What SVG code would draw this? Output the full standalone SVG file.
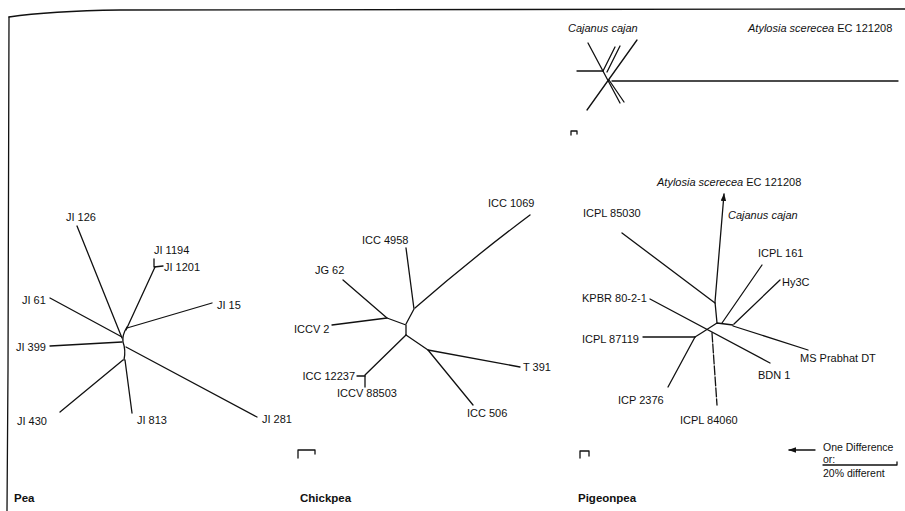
<svg xmlns="http://www.w3.org/2000/svg" width="905" height="511" viewBox="0 0 905 511">
<style>
.t{font-family:"Liberation Sans",Arial,sans-serif;font-size:11px;fill:#111}
.s{font-size:10.5px}
.i{font-style:italic}
.b{font-weight:bold;font-size:11.5px}
.l{stroke:#111;stroke-width:1.3;fill:none;stroke-linecap:round;stroke-linejoin:round}
.d{stroke-dasharray:9 2}
</style>
<defs>
<marker id="ah" viewBox="0 0 10 7" refX="9" refY="3.5" markerWidth="8" markerHeight="5.5" markerUnits="userSpaceOnUse" orient="auto">
<path d="M0,0 L10,3.5 L0,7 z" fill="#111"/>
</marker>
</defs>
<rect width="905" height="511" fill="#fff"/>
<g id="frame" class="l">
<path d="M9,17 Q50,11 120,10 L905,9"/>
<path d="M9,17 L8,370 L7,511"/>
</g>
<g id="connectors" class="l">
<!-- inset -->
<path d="M588,43 L620,103"/>
<path d="M609,80 L624,102"/>
<path d="M615,47 L603,71"/>
<path d="M620,46 L607,72"/>
<path d="M637,40 L587,110"/>
<path d="M577,71 L603,71"/>
<path d="M612,81 L898,81"/>
<path d="M571,135 L571,131 L577,131 L577,134"/>
<!-- pea -->
<path d="M77,226 L122,338"/>
<path d="M154,259 L154,267 L163,266"/>
<path d="M155,267 L126,330"/>
<path d="M212,303 L127,328"/>
<path d="M50,298 L122,337"/>
<path d="M50,346 L122,342"/>
<path d="M127,327 Q122,335 123,342 Q126,350 124,360"/>
<path d="M126,347 L257,417"/>
<path d="M60,412 L123,360"/>
<path d="M132,413 L125,360"/>
<!-- chickpea -->
<path d="M530,215 Q470,260 415,308"/>
<path d="M406,248 L414,309 L406,324"/>
<path d="M343,280 L387,318"/>
<path d="M332,325 L387,318 L406,325 L406,335"/>
<path d="M406,335 L365,375 L365,387"/>
<path d="M357,376 L365,376"/>
<path d="M406,335 L428,350 L520,367"/>
<path d="M428,350 L473,405"/>
<path d="M298,458 L298,450 L315,450 L315,454"/>
<!-- pigeonpea -->
<path d="M717,323 L715,302 L724,194" marker-end="url(#ah)"/>
<path d="M622,233 L715,303"/>
<path d="M695,337 L703,332 L717,323 L733,325"/>
<path d="M762,265 L722,323"/>
<path d="M780,280 L734,324"/>
<path d="M808,350 L733,326"/>
<path d="M650,299 L770,363"/>
<path d="M643,337 L695,337"/>
<path d="M668,387 L695,337"/>
<path class="d" d="M712,333 L717,405"/>
<path d="M580,458 L580,451 L589,451 L589,456"/>
<!-- legend -->
<path d="M815,450 L789,450" marker-end="url(#ah)"/>
<path d="M823,465 L897,465 L897,462"/>
</g>
<g id="inset-labels">
<text class="t i" x="568" y="32">Cajanus cajan</text>
<text class="t" x="748" y="32"><tspan class="i">Atylosia scerecea</tspan> EC 121208</text>
</g>
<g id="pea">
<g id="JI126"><text class="t" x="66" y="221">JI 126</text></g>
<g id="JI1194"><text class="t" x="154" y="254">JI 1194</text></g>
<g id="JI1201"><text class="t" x="164" y="271">JI 1201</text></g>
<g id="JI15"><text class="t" x="217" y="309">JI 15</text></g>
<g id="JI61"><text class="t" x="22" y="304">JI 61</text></g>
<g id="JI399"><text class="t" x="16" y="351">JI 399</text></g>
<g id="JI430"><text class="t" x="17" y="425">JI 430</text></g>
<g id="JI813"><text class="t" x="137" y="424">JI 813</text></g>
<g id="JI281"><text class="t" x="262" y="423">JI 281</text></g>
<g id="Pea"><text class="t b" x="14" y="502">Pea</text></g>
</g>
<g id="chickpea">
<g id="ICC1069"><text class="t" x="488" y="207">ICC 1069</text></g>
<g id="ICC4958"><text class="t" x="362" y="244">ICC 4958</text></g>
<g id="JG62"><text class="t" x="315" y="274">JG 62</text></g>
<g id="ICCV2"><text class="t" x="294" y="333">ICCV 2</text></g>
<g id="ICC12237"><text class="t" x="355" y="380" text-anchor="end">ICC 12237</text></g>
<g id="ICCV88503"><text class="t" x="337" y="397">ICCV 88503</text></g>
<g id="T391"><text class="t" x="523" y="371">T 391</text></g>
<g id="ICC506"><text class="t" x="467" y="417">ICC 506</text></g>
<g id="Chickpea"><text class="t b" x="300" y="502">Chickpea</text></g>
</g>
<g id="pigeonpea">
<g id="Atylosia"><text class="t" x="657" y="186"><tspan class="i">Atylosia scerecea</tspan> EC 121208</text></g>
<g id="Cajanus"><text class="t i" x="728" y="219">Cajanus cajan</text></g>
<g id="ICPL85030"><text class="t" x="583" y="217">ICPL 85030</text></g>
<g id="ICPL161"><text class="t" x="758" y="257">ICPL 161</text></g>
<g id="Hy3C"><text class="t" x="782" y="286">Hy3C</text></g>
<g id="MSPrabhat"><text class="t" x="800" y="362">MS Prabhat DT</text></g>
<g id="KPBR"><text class="t" x="582" y="302">KPBR 80-2-1</text></g>
<g id="BDN1"><text class="t" x="758" y="379">BDN 1</text></g>
<g id="ICPL87119"><text class="t" x="582" y="343">ICPL 87119</text></g>
<g id="ICP2376"><text class="t" x="618" y="404">ICP 2376</text></g>
<g id="ICPL84060"><text class="t" x="680" y="424">ICPL 84060</text></g>
<g id="Pigeonpea"><text class="t b" x="578" y="502">Pigeonpea</text></g>
</g>
<g id="legend">
<text class="t s" x="823" y="451">One Difference</text>
<text class="t s" x="823" y="463">or:</text>
<text class="t s" x="823" y="477">20% different</text>
</g>
</svg>
